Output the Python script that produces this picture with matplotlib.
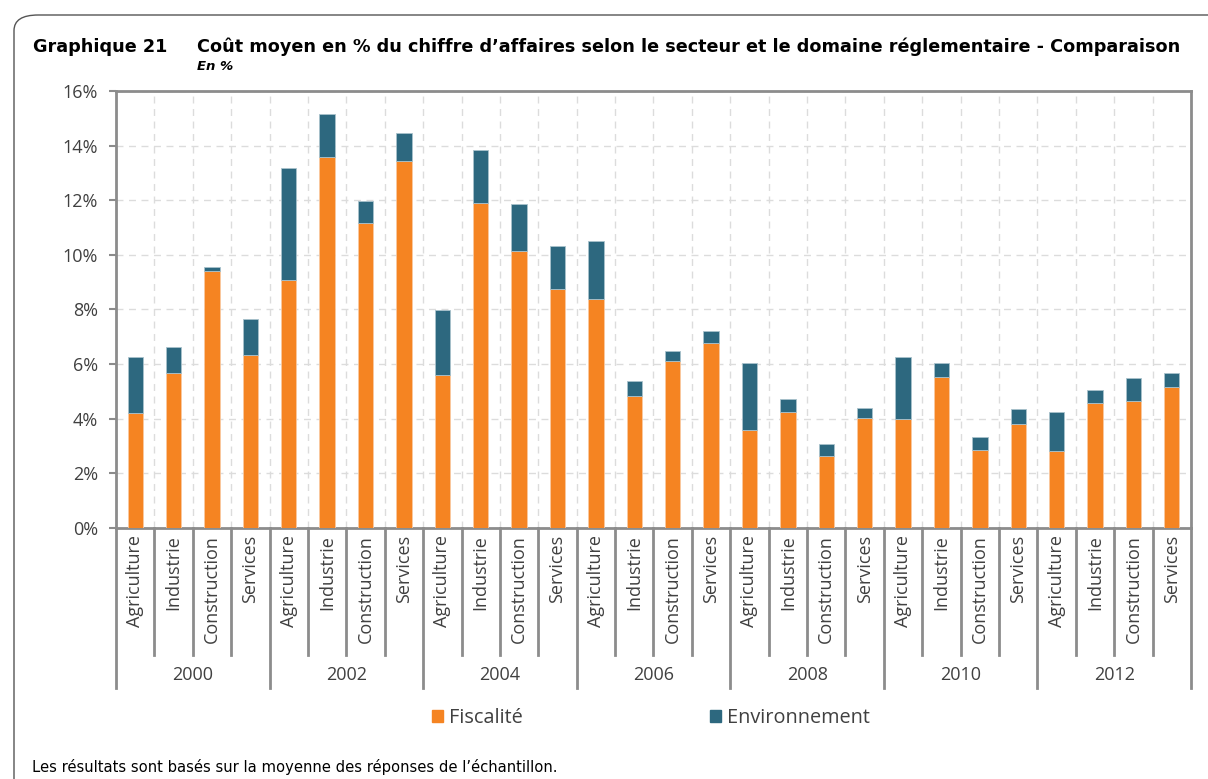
import numpy as np
import matplotlib
matplotlib.use("Agg")
import matplotlib.pyplot as plt
from matplotlib.patches import FancyBboxPatch, Patch
import matplotlib.transforms as mtransforms

# data (in %)
years = ["2000", "2002", "2004", "2006", "2008", "2010", "2012"]
sectors = ["Agriculture", "Industrie", "Construction", "Services"]
fiscalite = [4.2, 5.66, 9.41, 6.32,
             9.08, 13.57, 11.17, 13.45,
             5.60, 11.9, 10.15, 8.75,
             8.39, 4.83, 6.11, 6.77,
             3.60, 4.24, 2.64, 4.02,
             3.99, 5.53, 2.86, 3.81,
             2.83, 4.59, 4.64, 5.17]
totals = [6.27, 6.64, 9.54, 7.64,
          13.18, 15.17, 11.99, 14.45,
          7.98, 13.85, 11.86, 10.33,
          10.51, 5.37, 6.49, 7.20,
          6.05, 4.72, 3.06, 4.39,
          6.26, 6.05, 3.32, 4.35,
          4.25, 5.05, 5.49, 5.66]
environnement = [t - f for t, f in zip(totals, fiscalite)]

orange = "#F58422"
teal = "#2D687F"
grey = "#8C8C8C"
txt = "#404040"

plt.rcParams['font.family'] = ['Open Sans', 'DejaVu Sans']

fig = plt.figure(figsize=(12.08, 7.79), dpi=100)
ax = fig.add_axes([116/1208, 1-528/779, (1191-116)/1208, (528-91)/779])

n = len(fiscalite)
x = np.arange(n)
w = 0.4
ax.bar(x, fiscalite, w, color=orange, edgecolor="#F9C9A0", linewidth=0.6, zorder=3, label="Fiscalité")
ax.bar(x, environnement, w, bottom=fiscalite, color=teal, edgecolor="#A9C2CC", linewidth=0.6, zorder=3,
       label="Environnement")

ax.set_xlim(-0.5, n - 0.5)
ax.set_ylim(0, 16)
ax.set_yticks(np.arange(0, 17, 2))
ax.set_yticklabels([f"{v}%" for v in range(0, 17, 2)], fontsize=13, color=txt)
ax.tick_params(axis='y', length=5, width=1.5, color=grey, pad=8)
ax.set_xticks(np.arange(-0.5, n, 1))
ax.set_xticklabels([])
ax.tick_params(axis='x', length=0)
ax.grid(True, color="#DCDCDC", linestyle=(0, (5, 4)), linewidth=1, zorder=0)
for s in ax.spines.values():
    s.set_color(grey)
    s.set_linewidth(2)

# multi-level category axis
trans = mtransforms.blended_transform_factory(ax.transData, ax.transAxes)
for i in range(n):
    ax.text(x[i], -0.016, sectors[i % 4], rotation=90, ha='center', va='top',
            fontsize=13, color=txt, transform=trans)
for k in range(n + 1):
    low = -0.366 if k % 4 == 0 else -0.29
    ax.plot([k - 0.5, k - 0.5], [0, low], color=grey, lw=2, transform=trans, clip_on=False)
for j, yr in enumerate(years):
    ax.text(4 * j + 1.5, -0.336, yr, ha='center', va='center', fontsize=13, color=txt, transform=trans)

# legend
handles = [Patch(color=orange, label="Fiscalité"), Patch(color=teal, label="Environnement")]
fig.legend(handles=handles, loc='center', bbox_to_anchor=(0.539, 0.078), ncol=2, frameon=False,
           fontsize=14.3, handlelength=0.55, handleheight=0.55, handletextpad=0.3, columnspacing=9.45,
           labelcolor=txt)

# titles
fig.text(33/1208, 1-47/779, "Graphique 21", fontsize=12.7, fontweight='bold', family='DejaVu Sans',
         va='center', ha='left')
fig.text(197/1208, 1-47/779,
         "Coût moyen en % du chiffre d\u2019affaires selon le secteur et le domaine réglementaire - Comparaison",
         fontsize=12.7, fontweight='bold', family='DejaVu Sans', va='center', ha='left')
fig.text(197/1208, 1-66/779, "En %", fontsize=9.5, fontweight='bold', style='italic', family='DejaVu Sans',
         va='center', ha='left')
fig.text(32/1208, 1-767/779, "Les résultats sont basés sur la moyenne des réponses de l\u2019échantillon.",
         fontsize=10.6, va='center', ha='left', family='DejaVu Sans')

# rounded frame
frame = FancyBboxPatch((14/1208, -0.1), 1.2, 1 - 15/779 + 0.1, boxstyle="round,pad=0,rounding_size=0.02",
                       transform=fig.transFigure, fill=False, edgecolor="#555555", linewidth=1, clip_on=False)
fig.patches.append(frame)

fig.savefig("out.png", dpi=100)
